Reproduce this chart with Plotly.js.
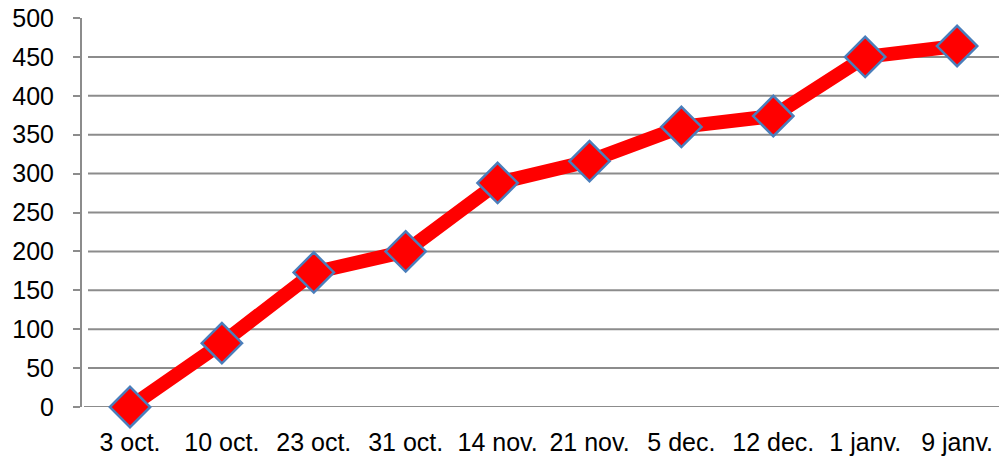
<!DOCTYPE html>
<html><head><meta charset="utf-8">
<script src="https://cdn.plot.ly/plotly-3.0.1.min.js"></script>
<style>html,body{margin:0;padding:0;background:#fff}#c{width:999px;height:462px}</style>
</head><body><div id="c"></div>
<script>
const categories = ["3 oct.", "10 oct.", "23 oct.", "31 oct.", "14 nov.", "21 nov.", "5 dec.", "12 dec.", "1 janv.", "9 janv."];
const values = [0, 82, 173, 200, 288, 316, 360, 374, 450, 464];
const yTicks = [0, 50, 100, 150, 200, 250, 300, 350, 400, 450, 500];
const gridVals = [50, 100, 150, 200, 250, 300, 350, 400, 450];

const W = 999, L = 81;
const plotW = W - L;
const gridColor = "#8c8c8c";

const shapes = gridVals.map(v => ({
  type: "line", xref: "paper", yref: "y", x0: 7 / plotW, x1: 1, y0: v, y1: v,
  line: {color: gridColor, width: 2}, layer: "below"
}));
// x axis baseline
shapes.push({type: "line", xref: "paper", yref: "y", x0: 3 / plotW, x1: 1, y0: 0, y1: 0,
  line: {color: gridColor, width: 2}, layer: "below"});

const trace = {
  x: categories, y: values, type: "scatter", mode: "lines+markers",
  cliponaxis: false,
  line: {color: "#ff0000", width: 14},
  marker: {symbol: "diamond", size: 31, color: "#ff0000", line: {color: "#4a7ebb", width: 2.5}},
  hoverinfo: "none"
};

const layout = {
  width: 999, height: 462,
  margin: {l: L, r: 0, t: 18, b: 55, pad: 0},
  paper_bgcolor: "#ffffff", plot_bgcolor: "#ffffff",
  showlegend: false,
  font: {family: "Liberation Sans, Arial, sans-serif", size: 25, color: "#000000"},
  xaxis: {
    type: "category", domain: [7 / plotW, 1],
    range: [-0.457, 9.456],
    showgrid: false, zeroline: false, showline: false, ticks: "",
    ticklabelstandoff: 18,
    tickfont: {size: 25}
  },
  yaxis: {
    range: [0, 500], anchor: "free", position: 0,
    tickvals: yTicks, ticktext: yTicks.map(String),
    showgrid: false, zeroline: false,
    showline: true, linecolor: gridColor, linewidth: 2,
    ticks: "outside", ticklen: 7, tickwidth: 2, tickcolor: gridColor,
    ticklabelstandoff: 14,
    tickfont: {size: 25}
  },
  shapes: shapes
};

Plotly.newPlot("c", [trace], layout, {staticPlot: true, displayModeBar: false});
</script>
</body></html>
